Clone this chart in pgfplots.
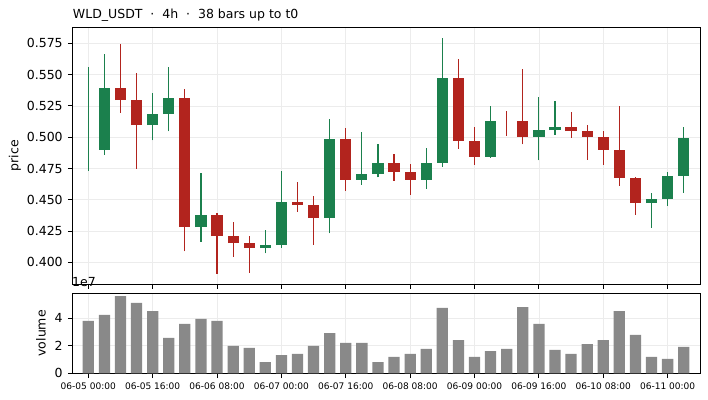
\documentclass[border=0pt]{standalone}
\usepackage{pgfplots}
\pgfplotsset{compat=1.18}
\usepackage{pgfplotstable}
\usepackage{fontspec}
\setmainfont{DejaVu Sans}
\definecolor{cgreen}{RGB}{27,128,77}
\definecolor{cred}{RGB}{178,36,30}
\definecolor{vgray}{RGB}{137,137,137}
\definecolor{gridc}{RGB}{236,236,236}

\pgfplotstableread{
x o h l c
0 0.4898 0.5558 0.4732 0.4898
1 0.4898 0.5664 0.4860 0.5393
4 0.5097 0.5353 0.4975 0.5185
5 0.5185 0.5558 0.5047 0.5313
7 0.4282 0.4714 0.4165 0.4378
11 0.4114 0.4258 0.4072 0.4138
12 0.4138 0.4727 0.4117 0.4482
15 0.4354 0.5145 0.4232 0.4985
17 0.4658 0.5041 0.4620 0.4706
18 0.4706 0.4945 0.4679 0.4794
21 0.4658 0.4913 0.4588 0.4794
22 0.4794 0.5790 0.4764 0.5473
25 0.4842 0.5247 0.4836 0.5129
28 0.5001 0.5319 0.4815 0.5057
29 0.5057 0.5289 0.5020 0.5081
35 0.4474 0.4554 0.4277 0.4506
36 0.4506 0.4722 0.4452 0.4690
37 0.4690 0.5081 0.4556 0.4993
}\greentab

\pgfplotstableread{
x o h l c
2 0.5393 0.5744 0.5196 0.5297
3 0.5297 0.5513 0.4748 0.5097
6 0.5313 0.5382 0.4088 0.4282
8 0.4378 0.4394 0.3909 0.4210
9 0.4210 0.4322 0.4045 0.4154
10 0.4154 0.4208 0.3917 0.4114
13 0.4482 0.4642 0.4404 0.4458
14 0.4458 0.4530 0.4141 0.4354
16 0.4985 0.5073 0.4572 0.4658
19 0.4794 0.4866 0.4652 0.4722
20 0.4722 0.4786 0.4540 0.4658
23 0.5473 0.5625 0.4908 0.4969
24 0.4969 0.5079 0.4780 0.4842
26 0.5129 0.5209 0.5012 0.5129
27 0.5129 0.5542 0.4943 0.5001
30 0.5081 0.5201 0.4996 0.5049
31 0.5049 0.5095 0.4820 0.5001
32 0.5001 0.5047 0.4780 0.4898
33 0.4898 0.5247 0.4612 0.4674
34 0.4674 0.4684 0.4381 0.4474
}\redtab

\pgfplotstableread{
x v
0 3.81
1 4.24
2 5.62
3 5.12
4 4.53
5 2.57
6 3.59
7 3.95
8 3.81
9 1.99
10 1.84
11 0.82
12 1.33
13 1.41
14 1.99
15 2.93
16 2.21
17 2.21
18 0.82
19 1.19
20 1.41
21 1.77
22 4.75
23 2.42
24 1.19
25 1.62
26 1.77
27 4.82
28 3.59
29 1.70
30 1.41
31 2.13
32 2.42
33 4.53
34 2.79
35 1.19
36 1.04
37 1.92
}\voltab

\begin{document}
\begin{tikzpicture}
\path[use as bounding box] (0,0) rectangle (509.76pt,288pt);
\pgfplotsset{
  common/.style={
    scale only axis, width=451.87pt, anchor=south west,
    xmin=-0.97, xmax=38.03, enlargelimits=false,
    tick align=outside, tick pos=left, major tick length=3.5pt,
    xtick={0,4,...,36},
    grid=major, major grid style={draw=gridc, line width=0.5pt},
    axis line style={line width=0.7pt},
    every tick/.style={black, line width=0.7pt},
    tick label style={font=\fontsize{9}{10}\selectfont},
    yticklabel style={inner sep=0pt, anchor=east, xshift=-3.5pt},
    xticklabel style={inner sep=0pt, anchor=north, yshift=-3.5pt},
    /pgf/number format/assume math mode=true,
  },
  wick/.style={draw=none, mark=none, forget plot,
    error bars/.cd, y dir=plus, y explicit, error mark=none,
    error bar style={draw=#1, line width=0.8pt}},
  body/.style={draw=none, mark=none, forget plot,
    error bars/.cd, y dir=plus, y explicit, error mark=none,
    error bar style={draw=#1, line width=8.1pt, line cap=butt}},
}
\begin{axis}[common, at={(52.34pt,83.52pt)}, height=184.82pt,
  ymin=0.3827, ymax=0.5878,
  ytick={0.400,0.425,0.450,0.475,0.500,0.525,0.550,0.575},
  yticklabels={0.400,0.425,0.450,0.475,0.500,0.525,0.550,0.575},
  xticklabels={},
  ylabel={price},
  every axis y label/.style={at={(axis description cs:-0.0919,0.5)}, rotate=90, anchor=center, font=\fontsize{9}{10}\selectfont},
  title={WLD\_USDT\ \ ·\ \ 4h\ \ ·\ \ 38 bars up to t0},
  every axis title/.style={at={(axis description cs:0,1)}, anchor=base west, yshift=6pt, inner sep=0pt, font=\fontsize{9}{10}\selectfont},
]
\addplot[wick=cgreen] table[x=x, y=l, y error expr={\thisrow{h}-\thisrow{l}}] {\greentab};
\addplot[wick=cred] table[x=x, y=l, y error expr={\thisrow{h}-\thisrow{l}}] {\redtab};
\addplot[body=cgreen] table[x=x, y expr={min(\thisrow{o},\thisrow{c})}, y error expr={abs(\thisrow{c}-\thisrow{o})}] {\greentab};
\addplot[body=cred] table[x=x, y expr={min(\thisrow{o},\thisrow{c})}, y error expr={abs(\thisrow{c}-\thisrow{o})}] {\redtab};
\end{axis}

\begin{axis}[common, at={(52.34pt,19.22pt)}, height=57.6pt,
  ymin=0, ymax=5.818,
  ytick={0,2,4}, yticklabels={0,2,4},
  xticklabels={06-05 00:00,06-05 16:00,06-06 08:00,06-07 00:00,06-07 16:00,06-08 08:00,06-09 00:00,06-09 16:00,06-10 08:00,06-11 00:00},
  xticklabel style={font=\fontsize{6.5}{7}\selectfont},
  ylabel={volume},
  every axis y label/.style={at={(axis description cs:-0.0505,0.5)}, rotate=90, anchor=center, font=\fontsize{9}{10}\selectfont},
  after end axis/.code={\node[anchor=base west, inner sep=0pt, font=\fontsize{9}{10}\selectfont] at ([xshift=-0.6pt,yshift=4.8pt]rel axis cs:0,1) {1e7};},
]
\addplot[ybar, bar width=0.7, fill=vgray, draw=none] table[x=x, y=v] {\voltab};
\end{axis}
\end{tikzpicture}
\end{document}
